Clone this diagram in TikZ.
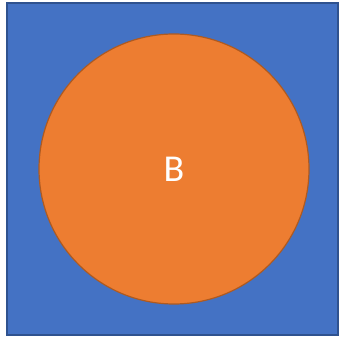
\documentclass[tikz,border=0pt]{standalone}
\usepackage{fontspec}
\setmainfont{Carlito}
\usepackage{tikz}
\usetikzlibrary{positioning}
\definecolor{boxblue}{HTML}{4472C4}
\definecolor{boxedge}{HTML}{2F528F}
\definecolor{setorange}{HTML}{ED7D31}
\definecolor{setedge}{HTML}{AE5A21}

\begin{document}
\begin{tikzpicture}[
  x=1pt, y=1pt,
  universe/.style={draw=boxedge, line width=1.2pt, fill=boxblue, minimum width=331pt, minimum height=332pt, inner sep=0pt},
  setB/.style={circle, draw=setedge, line width=1.2pt, fill=setorange, minimum size=270pt, inner sep=0pt, text=white, font=\fontsize{38}{40}\selectfont}
]
\useasboundingbox (0,0) rectangle (340,339);

\node[universe] (U) at (172.5,170) {};
\node[setB] (B) at (174,170) {B};
\end{tikzpicture}
\end{document}
